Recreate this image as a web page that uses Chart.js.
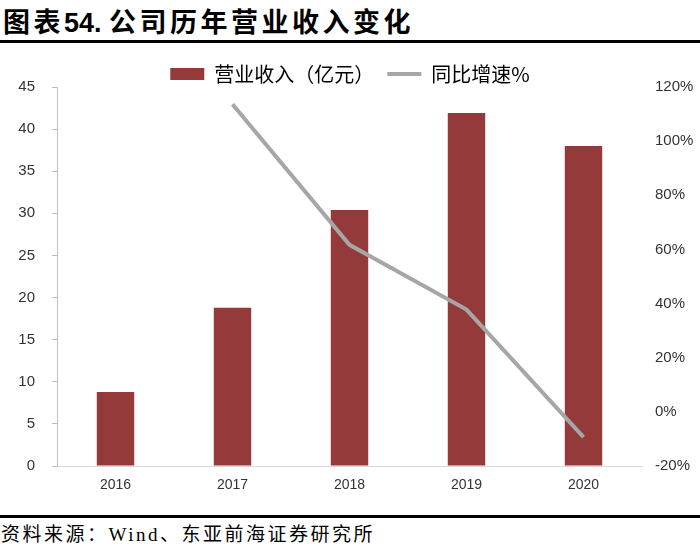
<!DOCTYPE html>
<html>
<head>
<meta charset="utf-8">
<script src="https://cdn.jsdelivr.net/npm/chart.js@4.4.0/dist/chart.umd.min.js"></script>
<style>
  body { margin: 0; background: #fff; }
  #page { position: relative; width: 700px; height: 547px; overflow: hidden; background: #fff; }
  #title { position: absolute; left: 3px; top: 1px; font: bold 27px "Noto Sans CJK SC", sans-serif; letter-spacing: 3.5px; color: #000; white-space: nowrap; }
  #title .num { font-family: "Liberation Sans", Arial, sans-serif; letter-spacing: 0; }
  .rule { position: absolute; left: 0; width: 700px; height: 3px; background: #000; }
  #source { position: absolute; left: 1px; top: 519px; font: 19px "Liberation Serif", "Noto Sans CJK SC", serif; letter-spacing: 2.5px; color: #000; white-space: nowrap; }
  #wrap { position: absolute; left: 0; top: 46px; width: 700px; height: 460px; }
</style>
</head>
<body>
<div id="page">
  <div id="title">图表<span class="num">54. </span>公司历年营业收入变化</div>
  <div class="rule" style="top:40px"></div>
  <div id="wrap"><canvas id="chart"></canvas></div>
  <div class="rule" style="top:515px"></div>
  <div id="source">资料来源：Wind、东亚前海证券研究所</div>
</div>
<script>
// values
const years = ['2016', '2017', '2018', '2019', '2020'];
const revenue = [8.8, 18.8, 30.4, 41.9, 38.0];          // 亿元
const growth = [null, 113.6, 61.7, 37.8, -9.3];          // %
const leftTicks = [0, 5, 10, 15, 20, 25, 30, 35, 40, 45];
const rightTicks = [-20, 0, 20, 40, 60, 80, 100, 120];

const barColor = '#943a3a';
const lineColor = '#a6a6a6';
const narrow = "'Liberation Sans Narrow', 'Liberation Sans', Arial, sans-serif";
const legendSize = 20;
const legendPad = 3;

const ctx = document.getElementById('chart').getContext('2d');
const chart = new Chart(ctx, {
    type: 'bar',
    data: {
        labels: years,
        datasets: [{
            label: '营业收入（亿元）',
            data: revenue,
            backgroundColor: barColor,
            borderWidth: 0,
            categoryPercentage: 1,
            barPercentage: 0.32,
            yAxisID: 'y',
            order: 1
        }, {
            type: 'line',
            label: '同比增速%',
            data: growth,
            borderColor: lineColor,
            backgroundColor: lineColor,
            borderWidth: 4,
            pointRadius: 0,
            tension: 0,
            yAxisID: 'y1',
            order: 0
        }]
    },
    options: {
        responsive: true,
        maintainAspectRatio: false,
        animation: false,
        layout: { padding: { top: 15, left: 0, right: 0, bottom: 12 } },
        plugins: {
            tooltip: { enabled: false },
            legend: {
                position: 'top',
                labels: {
                    usePointStyle: true,
                    pointStyleWidth: 34,
                    boxHeight: 12,
                    padding: legendPad,
                    color: '#000',
                    font: { family: "'Noto Sans CJK SC', sans-serif", size: legendSize },
                    generateLabels: chart => {
                        const items = Chart.defaults.plugins.legend.labels.generateLabels(chart);
                        items.sort((a, b) => a.datasetIndex - b.datasetIndex);
                        items.forEach(it => {
                            if (it.datasetIndex === 0) {
                                it.pointStyle = 'rect';
                                it.lineWidth = 0;
                                it.text = it.text + '\u3000';
                            } else {
                                it.pointStyle = 'line';
                                it.lineWidth = 4;
                                it.strokeStyle = lineColor;
                            }
                        });
                        return items;
                    }
                }
            }
        },
        scales: {
            x: {
                grid: { display: false, drawTicks: false },
                border: { color: '#d9d9d9', width: 1 },
                ticks: { color: '#333', padding: 11, font: { family: narrow, size: 14 } },
                afterFit: s => { s.height = 28; }
            },
            y: {
                position: 'left',
                min: 0,
                max: 45,
                afterBuildTicks: s => { s.ticks = leftTicks.map(v => ({ value: v })); },
                grid: { drawOnChartArea: false, drawTicks: true, tickLength: 5, color: '#bfbfbf' },
                border: { color: '#bfbfbf', width: 1 },
                ticks: { color: '#333', padding: 17, font: { family: "'Liberation Sans', Arial, sans-serif", size: 15 } },
                afterFit: s => { s.width = 57; }
            },
            y1: {
                position: 'right',
                min: -20,
                max: 120,
                afterBuildTicks: s => { s.ticks = rightTicks.map(v => ({ value: v })); },
                grid: { display: false, drawTicks: false },
                border: { display: false },
                ticks: {
                    color: '#333',
                    padding: 13,
                    font: { family: narrow, size: 15 },
                    callback: v => v + '%'
                },
                afterFit: s => { s.width = 58; }
            }
        }
    }
});

// keep the legend tight to the plot (no extra bottom gap)
const legendFit = chart.legend.fit;
chart.legend.fit = function () {
    legendFit.call(this);
    this.height = legendPad * 2 + legendSize;
};
chart.update();
</script>
</body>
</html>
